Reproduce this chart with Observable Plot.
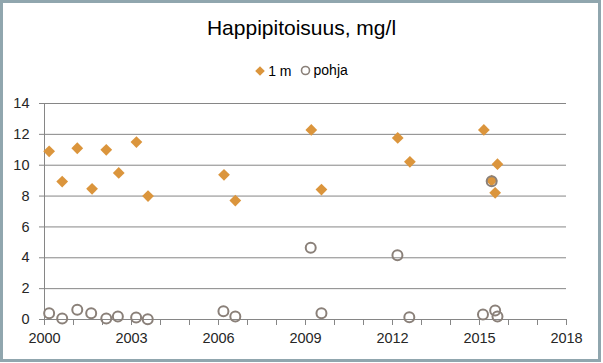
<!DOCTYPE html>
<html><head><meta charset="utf-8">
<script src="https://cdn.jsdelivr.net/npm/d3@7"></script>
<script src="https://cdn.jsdelivr.net/npm/@observablehq/plot@0.6"></script>
<style>
body{margin:0;background:#fff;}
#frame{position:relative;width:603px;height:363px;overflow:hidden;font-family:"Liberation Sans",Arial,sans-serif;background:#fff;}
#border{position:absolute;left:0;top:0;width:601px;height:362px;box-sizing:border-box;border:3px solid #90A6AE;pointer-events:none;}
#title{position:absolute;top:15px;left:0;width:603px;text-align:center;font-size:21px;color:#000;line-height:26px;}
#legend{position:absolute;top:61px;left:0;width:603px;text-align:center;font-size:14px;color:#000;line-height:18px;}
#legend span{display:inline-flex;align-items:center;margin:0 4px;}
#legend svg{margin-right:3px;}
#chart{position:absolute;top:85px;left:0;}
</style></head>
<body>
<div id="frame">
  <div id="title">Happipitoisuus, mg/l</div>
  <div id="legend"></div>
  <div id="chart"></div>
  <div id="border"></div>
</div>
<script>
// Series: 1 m depth (orange diamonds)
const m1Years  = [2000.16, 2000.61, 2001.13, 2001.64, 2002.13, 2002.56, 2003.17, 2003.57, 2006.19, 2006.58, 2009.2, 2009.55, 2012.18, 2012.6, 2015.15, 2015.42, 2015.54, 2015.62];
const m1Values = [10.9, 8.94, 11.1, 8.47, 11.0, 9.5, 11.5, 8.0, 9.38, 7.71, 12.29, 8.42, 11.77, 10.22, 12.29, 9.0, 8.21, 10.07];
// Series: pohja (bottom, open circles)
const pYears  = [2000.16, 2000.61, 2001.13, 2001.61, 2002.13, 2002.53, 2003.16, 2003.56, 2006.17, 2006.58, 2009.18, 2009.55, 2012.17, 2012.58, 2015.12, 2015.42, 2015.54, 2015.62];
const pValues = [0.41, 0.07, 0.63, 0.41, 0.07, 0.2, 0.13, 0.02, 0.54, 0.2, 4.65, 0.41, 4.17, 0.15, 0.32, 8.96, 0.58, 0.19];
// Ticks
const xLabelTicks = [2000, 2003, 2006, 2009, 2012, 2015, 2018];
const xMinorTicks = d3.range(2000, 2019);
const yTicks = [0, 2, 4, 6, 8, 10, 12, 14];
const seriesNames = ["1 m", "pohja"];

const orange = "#DB953C";
const gray = "#8A8079";
const lineGray = "#868686";

const m1 = m1Years.map((x, i) => ({x, y: m1Values[i]}));
const pohja = pYears.map((x, i) => ({x, y: pValues[i]}));

const chart = Plot.plot({
  width: 603,
  height: 278,
  marginLeft: 44,
  marginRight: 37,
  marginTop: 18,
  marginBottom: 44,
  style: {fontFamily: "Liberation Sans, Arial, sans-serif", fontSize: "14.5px", color: "#262626", background: "transparent"},
  x: {domain: [2000, 2018]},
  y: {domain: [0, 14]},
  marks: [
    Plot.gridY(yTicks, {stroke: lineGray, strokeOpacity: 1, strokeWidth: 1}),
    Plot.ruleX([2000], {stroke: lineGray, strokeWidth: 1}),
    Plot.axisY(yTicks, {tickSize: 5, tickPadding: 10, stroke: lineGray, fontSize: 14.5, fill: "#262626", label: null}),
    Plot.axisX(xMinorTicks, {tickSize: 6, stroke: lineGray, tickFormat: () => "", label: null}),
    Plot.axisX(xLabelTicks, {tickSize: 0, tickPadding: 13, tickFormat: d => String(d), fontSize: 14.5, fill: "#262626", label: null}),
    Plot.dot(m1, {x: "x", y: "y", symbol: "diamond2", r: 5.3, fill: orange, stroke: "none"}),
    Plot.dot(pohja, {x: "x", y: "y", symbol: "circle", r: 5, fill: "none", stroke: gray, strokeWidth: 2})
  ]
});
document.getElementById("chart").appendChild(chart);

// Legend
const legend = document.getElementById("legend");
const sym = [
  '<svg width="10" height="10" viewBox="-5 -5 10 10"><path d="M0,-4.8L4.8,0L0,4.8L-4.8,0Z" fill="' + orange + '"/></svg>',
  '<svg width="11" height="11" viewBox="-5.5 -5.5 11 11"><circle r="4" fill="none" stroke="' + gray + '" stroke-width="1.6"/></svg>'
];
seriesNames.forEach((name, i) => {
  const s = document.createElement("span");
  s.innerHTML = sym[i] + name;
  legend.appendChild(s);
});
</script>
</body></html>
